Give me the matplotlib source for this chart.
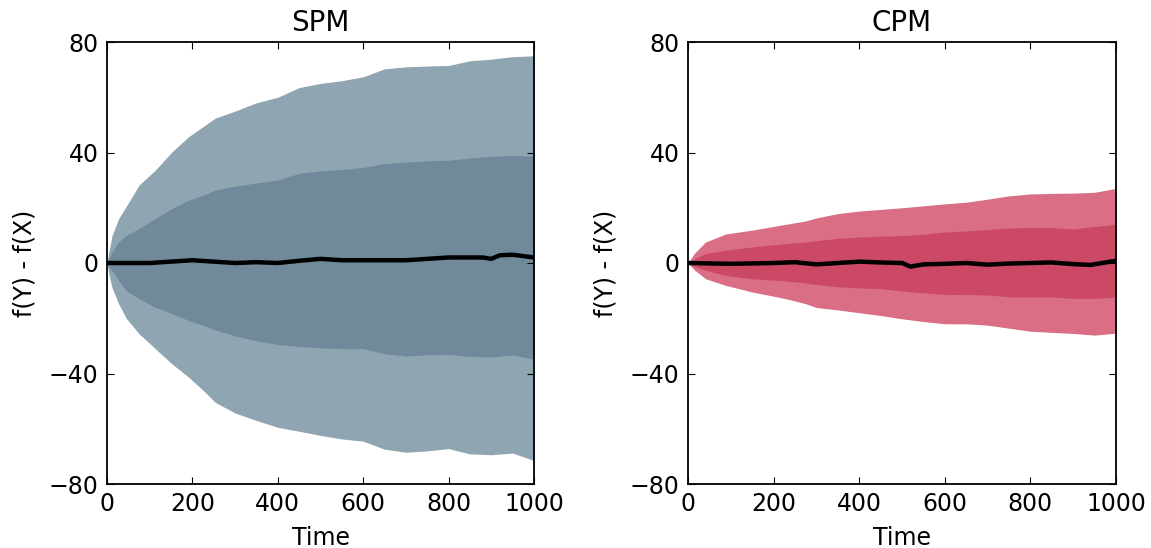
import matplotlib
matplotlib.use("Agg")
import matplotlib.pyplot as plt

# ---- data ----
spm_time = [0, 5, 12, 27, 45, 75, 113, 152, 191, 230, 253, 300, 350, 400, 450, 500,
            550, 600, 650, 700, 750, 800, 850, 900, 950, 1000]
spm_outer_hi = [0, 4.5, 10, 16, 20.5, 28.2, 33.6, 40.2, 45.7, 49.9, 52.4, 55, 58, 60, 63.5, 65,
                66, 67.4, 70.3, 71, 71.3, 71.5, 73.2, 73.8, 74.7, 75]
spm_inner_hi = [0, 2, 4, 7.6, 10, 12.5, 16.1, 19.7, 22.7, 24.8, 26.4, 27.8, 29, 30, 32.5, 33.3,
                33.9, 34.6, 36, 36.5, 37, 37.2, 38, 38.6, 39, 38.7]
spm_inner_lo = [0, -1.5, -2.8, -6.3, -10, -12.9, -16, -18.3, -20.8, -22.8, -24.2, -26.4, -28.2, -29.5, -30.2, -30.7,
                -31, -31, -32.8, -33.7, -33.2, -33.1, -33.8, -34, -33.3, -34.8]
spm_outer_lo = [0, -4.5, -9, -14.7, -20, -25.6, -31, -36.5, -41.3, -46.8, -50.4, -54.3, -57, -59.5, -60.9, -62.4,
                -63.7, -64.5, -67.4, -68.5, -68, -67.2, -69.1, -69.4, -68.8, -71.5]

spm_mean_t = [0, 100, 150, 200, 250, 300, 350, 400, 450, 500, 550, 600, 650,
              700, 750, 800, 850, 880, 900, 920, 950, 1000]
spm_mean = [0, 0, 0.5, 1, 0.5, 0, 0.3, 0, 0.8, 1.5, 1, 1, 1,
            1, 1.5, 2, 2, 2, 1.5, 2.8, 3, 2]

cpm_time = [0, 15, 41, 88, 150, 228, 274, 300, 350, 400, 450, 500, 550, 600,
            650, 700, 750, 800, 850, 900, 950, 1000]
cpm_outer_hi = [0, 3.5, 7.6, 10.5, 11.9, 14, 15.2, 16.3, 17.9, 18.8, 19.4, 20, 20.7, 21.4,
                22, 23.1, 24.3, 25, 25.2, 25.3, 25.6, 27]
cpm_inner_hi = [0, 1.5, 3.4, 4.6, 5.8, 7, 7.6, 8.1, 8.9, 9.4, 9.7, 9.9, 10.4, 11.2,
                11.6, 12.1, 12.7, 12.8, 12.8, 12.3, 13.2, 14]
cpm_inner_lo = [0, -1.3, -2.6, -4.5, -5.7, -6.5, -7.2, -7.8, -8.6, -9, -9.3, -10.1, -10.8, -11.4,
                -11.4, -11.6, -12.2, -12.3, -12.3, -12.8, -12.8, -12.3]
cpm_outer_lo = [0, -2.5, -5.7, -8.1, -10.5, -12.9, -14.7, -16.1, -17, -18, -19, -20.2, -21.2, -22,
                -22, -22.5, -23.6, -24.7, -25.1, -25.5, -26.1, -25.4]

cpm_mean_t = [0, 100, 200, 250, 300, 350, 400, 450, 500, 520, 550, 600, 650,
              700, 750, 800, 850, 900, 940, 1000]
cpm_mean = [0, -0.3, 0, 0.3, -0.5, 0, 0.5, 0.2, 0, -1.3, -0.5, -0.3, 0,
            -0.6, -0.2, 0, 0.2, -0.4, -0.7, 0.8]

titles = ["SPM", "CPM"]
y_ticks = [-80, -40, 0, 40, 80]
x_ticks = [0, 200, 400, 600, 800, 1000]

# ---- style ----
plt.rcParams.update({
    "font.family": "DejaVu Sans",
    "xtick.direction": "in", "ytick.direction": "in",
    "xtick.top": True, "ytick.right": True,
    "xtick.major.size": 5, "ytick.major.size": 5,
    "xtick.major.pad": 6, "ytick.major.pad": 6,
    "axes.linewidth": 1.3,
})

fig = plt.figure(figsize=(11.51, 5.48), dpi=100)
ax1 = fig.add_axes([107 / 1151, 64 / 548, 427 / 1151, 442 / 548])
ax2 = fig.add_axes([688 / 1151, 64 / 548, 428 / 1151, 442 / 548])

panels = [
    (ax1, spm_time, spm_outer_lo, spm_outer_hi, spm_inner_lo, spm_inner_hi, spm_mean_t, spm_mean,
     "#8fa5b1", "#708a9b"),
    (ax2, cpm_time, cpm_outer_lo, cpm_outer_hi, cpm_inner_lo, cpm_inner_hi, cpm_mean_t, cpm_mean,
     "#d96e84", "#cc4965"),
]

for (ax, t, olo, ohi, ilo, ihi, mt, m, c_out, c_in), title in zip(panels, titles):
    ax.fill_between(t, olo, ohi, color=c_out, linewidth=0)
    ax.fill_between(t, ilo, ihi, color=c_in, linewidth=0)
    ax.plot(mt, m, color="black", linewidth=3.2)
    ax.set_xlim(0, 1000)
    ax.set_ylim(-80, 80)
    ax.set_xticks(x_ticks)
    ax.set_yticks(y_ticks)
    ax.tick_params(labelsize=17)
    ax.set_xlabel("Time", fontsize=17, labelpad=7)
    ax.set_ylabel("f(Y) - f(X)", fontsize=17, labelpad=9)
    ax.set_title(title, fontsize=20, pad=8)

fig.savefig("out.png", dpi=100, facecolor="white")
